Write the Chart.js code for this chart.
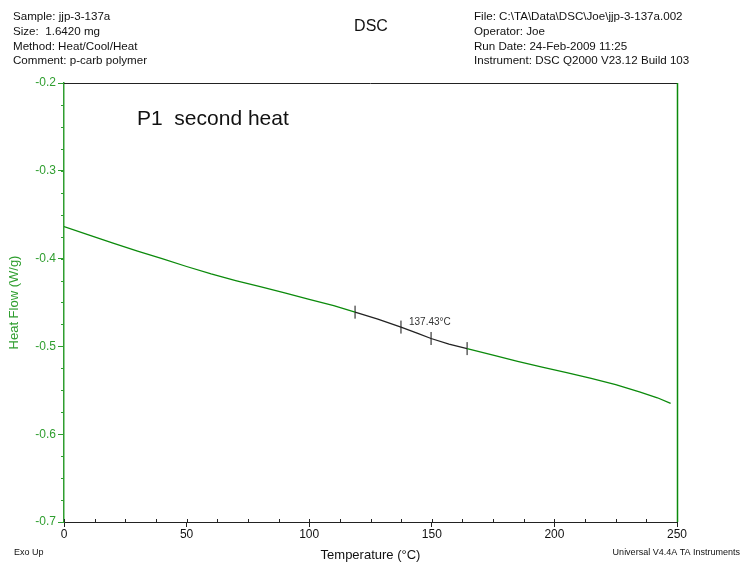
<!DOCTYPE html>
<html>
<head>
<meta charset="utf-8">
<script src="https://cdn.jsdelivr.net/npm/chart.js@4"></script>
<style>
  html, body { margin: 0; padding: 0; background: #fff; overflow: hidden; }
  #dsc { display: block; }
</style>
</head>
<body>
<canvas id="dsc" width="743" height="563"></canvas>
<script>
// Temperature (°C) and heat flow (W/g)
const temps = [0, 10, 20, 30, 40, 50, 60, 70, 80, 90, 100, 110, 118.7, 128, 137.43, 144, 149.7, 157, 164.4, 175, 185, 195, 205, 215, 225, 235, 242, 247.4];
const heatFlow = [-0.3635, -0.3730, -0.3825, -0.3915, -0.4000, -0.4090, -0.4175, -0.4250, -0.4320, -0.4390, -0.4465, -0.4535, -0.4610, -0.4690, -0.4780, -0.4850, -0.4910, -0.4975, -0.5025, -0.5100, -0.5170, -0.5235, -0.5300, -0.5365, -0.5435, -0.5520, -0.5585, -0.5650];

// Glass transition analysis markers (onset, midpoint, inflection, end)
const tgTemps = [118.7, 137.43, 149.7, 164.4];
const tgFlow = [-0.4610, -0.4780, -0.4910, -0.5025];
const tgLabel = '137.43°C';

const xTicks = [0, 50, 100, 150, 200, 250];
const yTicks = [-0.2, -0.3, -0.4, -0.5, -0.6, -0.7];

const green = '#0b8a0b';
const axisGreen = '#2f9e2f';
const font = "'Liberation Sans', Arial, sans-serif";

// header, annotations, minor ticks
const extras = {
    id: 'extras',
    afterDraw(chart) {
        const ctx = chart.ctx;
        const x = chart.scales.x, y = chart.scales.y;
        const area = chart.chartArea;
        ctx.save();

        // minor ticks
        ctx.strokeStyle = axisGreen;
        ctx.lineWidth = 1;
        for (let v = -0.7; v <= -0.2 + 1e-9; v += 0.025) {
            const py = Math.round(y.getPixelForValue(v)) + 0.5;
            ctx.beginPath(); ctx.moveTo(area.left - 3, py); ctx.lineTo(area.left, py); ctx.stroke();
        }
        ctx.strokeStyle = '#222';
        for (let t = 0; t <= 250; t += 12.5) {
            const px = Math.round(x.getPixelForValue(t)) + 0.5;
            ctx.beginPath(); ctx.moveTo(px, area.bottom); ctx.lineTo(px, area.bottom - 3); ctx.stroke();
        }

        // frame: top black, right green
        ctx.strokeStyle = '#222';
        ctx.beginPath(); ctx.moveTo(area.left, area.top + 0.5); ctx.lineTo(area.right, area.top + 0.5); ctx.stroke();
        ctx.strokeStyle = green;
        ctx.lineWidth = 1.5;
        ctx.beginPath(); ctx.moveTo(area.right + 0.5, area.top); ctx.lineTo(area.right + 0.5, area.bottom); ctx.stroke();
        ctx.lineWidth = 1;

        // header text
        ctx.fillStyle = '#111';
        ctx.textBaseline = 'middle';
        ctx.textAlign = 'left';
        ctx.font = '11.6px ' + font;
        const left = ['Sample: jjp-3-137a', 'Size:  1.6420 mg', 'Method: Heat/Cool/Heat', 'Comment: p-carb polymer'];
        const right = ['File: C:\\TA\\Data\\DSC\\Joe\\jjp-3-137a.002', 'Operator: Joe', 'Run Date: 24-Feb-2009 11:25', 'Instrument: DSC Q2000 V23.12 Build 103'];
        left.forEach((s, i) => ctx.fillText(s, 13, 17 + i * 14.7));
        right.forEach((s, i) => ctx.fillText(s, 474, 17 + i * 14.7));
        ctx.textAlign = 'center';
        ctx.font = '16px ' + font;
        ctx.fillText('DSC', 371, 27);

        ctx.textAlign = 'left';
        ctx.font = '21px ' + font;
        ctx.fillText('P1  second heat', 137, 119);

        ctx.font = '9px ' + font;
        ctx.fillText('Exo Up', 14, 553);
        ctx.textAlign = 'right';
        ctx.fillText('Universal V4.4A TA Instruments', 740, 553);

        // Tg label
        ctx.textAlign = 'left';
        ctx.fillStyle = '#333';
        ctx.font = '10px ' + font;
        ctx.fillText(tgLabel, x.getPixelForValue(tgTemps[1]) + 8, y.getPixelForValue(tgFlow[1]) - 5);
        ctx.restore();
    }
};

new Chart(document.getElementById('dsc'), {
    type: 'scatter',
    data: {
        datasets: [{
            data: temps.map((t, i) => ({ x: t, y: heatFlow[i] })),
            showLine: true,
            borderColor: green,
            borderWidth: 1.3,
            pointRadius: 0,
            tension: 0,
            segment: {
                borderColor: c => (c.p0.parsed.x >= tgTemps[0] && c.p1.parsed.x <= tgTemps[3]) ? '#222' : green
            }
        }, {
            data: tgTemps.map((t, i) => ({ x: t, y: tgFlow[i] })),
            showLine: false,
            pointStyle: 'line',
            rotation: 90,
            pointRadius: 6.5,
            borderColor: '#111',
            borderWidth: 1
        }]
    },
    options: {
        responsive: false,
        animation: false,
        devicePixelRatio: 1,
        layout: { padding: { left: 7, top: 83, right: 66, bottom: 0 } },
        plugins: { legend: { display: false }, tooltip: { enabled: false } },
        scales: {
            x: {
                type: 'linear',
                min: 0,
                max: 250,
                afterBuildTicks: s => { s.ticks = xTicks.map(v => ({ value: v })); },
                afterFit: s => { s.height = 41; },
                border: { color: '#222', width: 1 },
                grid: { drawOnChartArea: false, tickLength: 5, color: '#222' },
                ticks: { color: '#111', font: { family: font, size: 12 }, padding: 0, maxRotation: 0 },
                title: { display: true, text: 'Temperature (°C)', color: '#111', font: { family: font, size: 13 }, padding: { top: 2, bottom: 0 } }
            },
            y: {
                type: 'linear',
                min: -0.7,
                max: -0.2,
                afterBuildTicks: s => { s.ticks = yTicks.map(v => ({ value: v })); },
                afterFit: s => { s.width = 57; },
                border: { color: axisGreen, width: 1.5 },
                grid: { drawOnChartArea: false, tickLength: 6, color: axisGreen },
                ticks: { color: axisGreen, font: { family: font, size: 12 }, padding: 2, callback: v => v.toFixed(1) },
                title: { display: true, text: 'Heat Flow (W/g)', color: axisGreen, font: { family: font, size: 13 }, padding: { top: 0, bottom: 4 } }
            }
        }
    },
    plugins: [extras]
});
</script>
</body>
</html>
